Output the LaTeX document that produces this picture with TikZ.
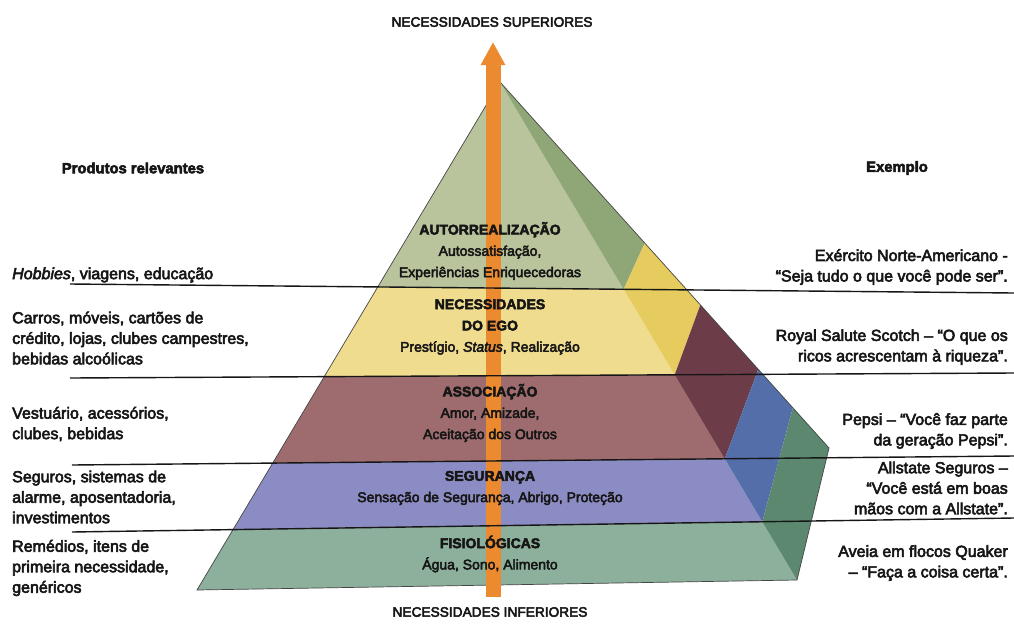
\documentclass[tikz,border=0pt]{standalone}
\usepackage{fontspec}
\setmainfont{Liberation Sans}[FakeBold=3.5]
\usetikzlibrary{arrows.meta,calc}
\definecolor{frontA}{HTML}{B9C49C}
\definecolor{sideA}{HTML}{8FA676}
\definecolor{frontB}{HTML}{F0DC8E}
\definecolor{sideB}{HTML}{E6CC5E}
\definecolor{frontC}{HTML}{9E6C6E}
\definecolor{sideC}{HTML}{6C3C48}
\definecolor{frontD}{HTML}{8C8CC4}
\definecolor{sideD}{HTML}{546EAA}
\definecolor{frontE}{HTML}{8DB09C}
\definecolor{sideE}{HTML}{5B886F}
\definecolor{arrowc}{HTML}{EC8A30}
\definecolor{ink}{HTML}{161616}
\begin{document}
\begin{tikzpicture}[x=1pt,y=-1pt,
  sidetext/.style={font=\fontsize{16}{20.5}\selectfont, inner sep=0pt, text=ink},
  lefttext/.style={sidetext, anchor=west, align=left},
  righttext/.style={sidetext, anchor=east, align=right},
  midtext/.style={font=\fontsize{14}{21.3}\selectfont, inner sep=0pt, align=center, text=ink},
  headtext/.style={font=\fontsize{13.7}{18}\selectfont, inner sep=0pt, text=ink},
  coltitle/.style={font=\bfseries\fontsize{14.8}{18}\selectfont, inner sep=0pt, text=ink},
  levelline/.style={line width=1.4pt, draw=ink},
  pyredge/.style={line width=0.7pt, draw=ink!80},
]
\useasboundingbox (0,0) rectangle (1014,624);
\fill[white] (0,0) rectangle (1014,624);
% pyramid corners
\coordinate (A) at (500,82);
\coordinate (BL) at (197,590);
\coordinate (BR) at (797,580);
\coordinate (RP) at (829,448);
% level lines
\coordinate (l1a) at (70,284);  \coordinate (l1b) at (1014,293);
\coordinate (l2a) at (70,378);  \coordinate (l2b) at (1014,373);
\coordinate (l3a) at (72,465);  \coordinate (l3b) at (1014,456);
\coordinate (l4a) at (72,532);  \coordinate (l4b) at (1014,518);
% intersections
\coordinate (L1) at (intersection of A--BL and l1a--l1b);
\coordinate (L2) at (intersection of A--BL and l2a--l2b);
\coordinate (L3) at (intersection of A--BL and l3a--l3b);
\coordinate (L4) at (intersection of A--BL and l4a--l4b);
\coordinate (E1) at (intersection of A--BR and l1a--l1b);
\coordinate (E2) at (intersection of A--BR and l2a--l2b);
\coordinate (E3) at (intersection of A--BR and l3a--l3b);
\coordinate (E4) at (intersection of A--BR and l4a--l4b);
\coordinate (O1) at ($(A)!0.44!(RP)$);
\coordinate (O2) at ($(A)!0.609!(RP)$);
\coordinate (O3) at ($(A)!0.785!(RP)$);
\coordinate (O4) at ($(A)!0.89!(RP)$);
% front faces
\fill[frontA] (A) -- (L1) -- (E1) -- cycle;
\fill[frontB] (L1) -- (L2) -- (E2) -- (E1) -- cycle;
\fill[frontC] (L2) -- (L3) -- (E3) -- (E2) -- cycle;
\fill[frontD] (L3) -- (L4) -- (E4) -- (E3) -- cycle;
\fill[frontE] (L4) -- (BL) -- (BR) -- (E4) -- cycle;
% side faces
\fill[sideA] (A) -- (E1) -- (O1) -- cycle;
\fill[sideB] (O1) -- (E1) -- (E2) -- (O2) -- cycle;
\fill[sideC] (O2) -- (E2) -- (E3) -- (O3) -- cycle;
\fill[sideD] (O3) -- (E3) -- (E4) -- (O4) -- cycle;
\fill[sideE] (O4) -- (E4) -- (BR) -- (RP) -- cycle;
\draw[pyredge] (A) -- (BL) -- (BR) -- (RP) -- cycle;
% arrow
\coordinate (arrbot) at (493,597);
\coordinate (arrtop) at (493,42);
\draw[arrowc, line width=15pt, -{Triangle[width=23pt,length=23pt]}] (arrbot) -- (arrtop);
% lines
\draw[levelline] (l1a) -- (l1b);
\draw[levelline] (l2a) -- (l2b);
\draw[levelline] (l3a) -- (l3b);
\draw[levelline] (l4a) -- (l4b);
% titles
\node[headtext] (sup) at (492,22) {NECESSIDADES SUPERIORES};
\node[headtext] (inf) at (490,612) {NECESSIDADES INFERIORES};
\node[coltitle] (prod) at (133,168) {Produtos relevantes};
\node[coltitle] (exem) at (897,168) {Exemplo};
% left column
\node[lefttext] (p1) at (12,275) {\textit{Hobbies}, viagens, educação};
\node[lefttext] (p2) at (12,338) {Carros, móveis, cartões de\\crédito, lojas, clubes campestres,\\bebidas alcoólicas};
\node[lefttext] (p3) at (12,424) {Vestuário, acessórios,\\clubes, bebidas};
\node[lefttext] (p4) at (12,497) {Seguros, sistemas de\\alarme, aposentadoria,\\investimentos};
\node[lefttext] (p5) at (12,568) {Remédios, itens de\\primeira necessidade,\\genéricos};
% right column
\node[righttext] (x1) at (1008,267) {Exército Norte-Americano -\\“Seja tudo o que você pode ser”.};
\node[righttext] (x2) at (1008,347) {Royal Salute Scotch – “O que os\\ricos acrescentam à riqueza”.};
\node[righttext] (x3) at (1008,431) {Pepsi – “Você faz parte\\da geração Pepsi”.};
\node[righttext] (x4) at (1008,488) {Allstate Seguros –\\“Você está em boas\\mãos com a Allstate”.};
\node[righttext] (x5) at (1008,563) {Aveia em flocos Quaker\\– “Faça a coisa certa”.};
% centre
\node[midtext] (n1) at (490,251) {\textbf{AUTORREALIZAÇÃO}\\Autossatisfação,\\Experiências Enriquecedoras};
\node[midtext] (n2) at (490,327) {\textbf{NECESSIDADES}\\\textbf{DO EGO}\\Prestígio, \textit{Status}, Realização};
\node[midtext] (n3) at (490,413) {\textbf{ASSOCIAÇÃO}\\Amor, Amizade,\\Aceitação dos Outros};
\node[midtext] (n4) at (490,488) {\textbf{SEGURANÇA}\\Sensação de Segurança, Abrigo, Proteção};
\node[midtext] (n5) at (490,554) {\textbf{FISIOLÓGICAS}\\Água, Sono, Alimento};
\end{tikzpicture}
\end{document}
